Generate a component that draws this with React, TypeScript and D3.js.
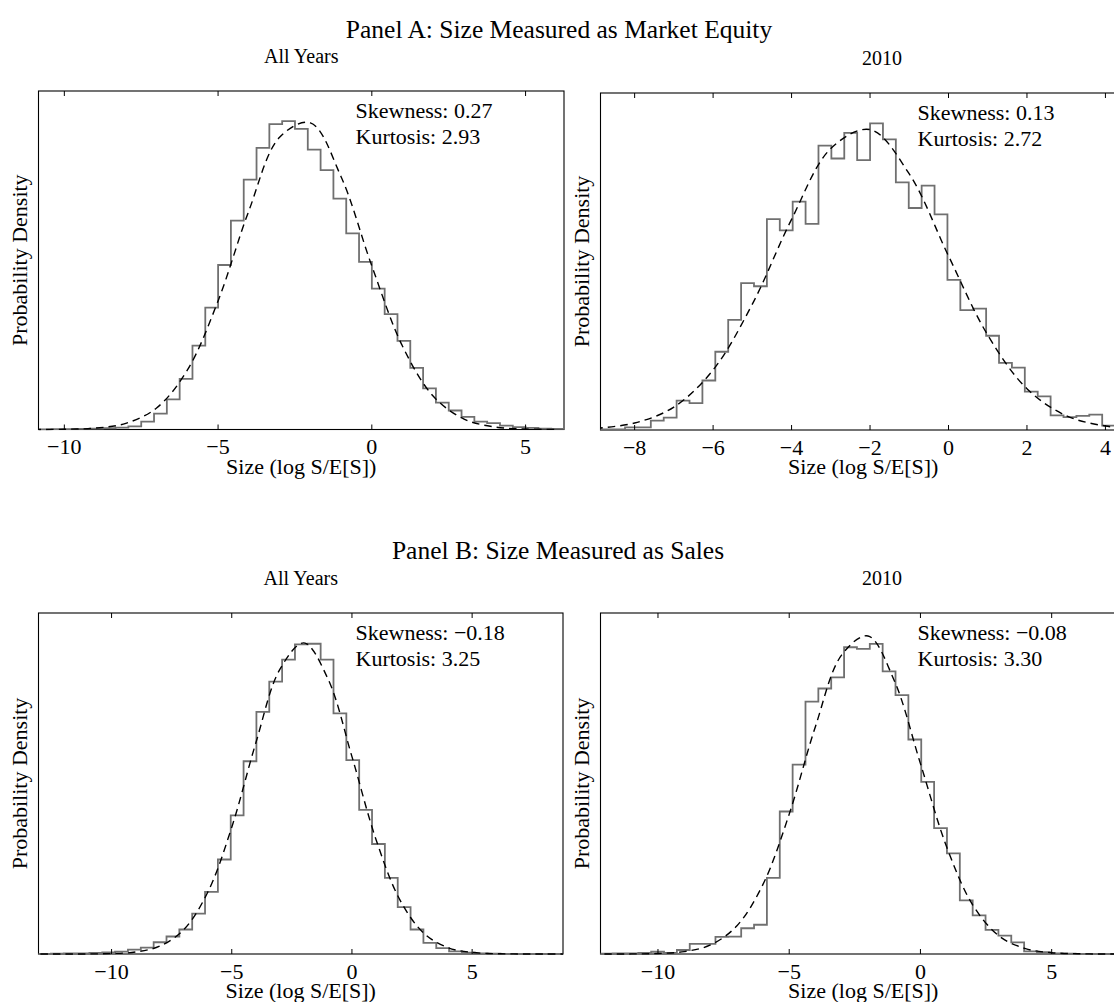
import React, { useEffect, useRef } from "react";
import * as d3 from "d3";

// Panel A: market equity, all years
const aAllBinStart = -10.833;
const aAllBinWidth = 0.4167;
const aAllDensity = [
  0.0001, 0.0002, 0.0003, 0.0004, 0.0006, 0.0008, 0.0012, 0.002, 0.005, 0.01,
  0.019, 0.032, 0.053, 0.077, 0.104, 0.132, 0.158, 0.178, 0.193, 0.195, 0.19,
  0.177, 0.164, 0.146, 0.124, 0.106, 0.089, 0.073, 0.056, 0.039, 0.026, 0.017,
  0.012, 0.008, 0.005, 0.004, 0.0025, 0.0015, 0.001, 0.0006, 0.0004,
];
const aAllFitX = [-11, -10, -9, -8, -7, -6, -5, -4, -3, -2, -1, 0, 1, 2, 3, 4, 5, 6];
const aAllFit = [
  0.00002, 0.00015, 0.00087, 0.0039, 0.0136, 0.0375, 0.0813, 0.1382, 0.1847,
  0.1939, 0.1598, 0.1034, 0.0526, 0.021, 0.0066, 0.0016, 0.0003, 0.00005,
];

// Panel A: market equity, 2010
const a2010BinStart = -8.902;
const a2010BinWidth = 0.3287;
const a2010Density = [
  0.0003, 0.0004, 0.0017, 0.0017, 0.0059, 0.0077, 0.0184, 0.0168, 0.031, 0.049,
  0.069, 0.092, 0.09, 0.132, 0.125, 0.143, 0.129, 0.178, 0.17, 0.186, 0.169,
  0.192, 0.182, 0.155, 0.139, 0.153, 0.135, 0.094, 0.075, 0.076, 0.059, 0.042,
  0.039, 0.024, 0.021, 0.0092, 0.008, 0.0088, 0.0096, 0.0027, 0.0015,
];
const a2010FitX = [-9, -8, -7, -6, -5, -4, -3, -2, -1, 0, 1, 2, 3, 4, 5];
const a2010Fit = [
  0.00106, 0.00437, 0.01434, 0.0376, 0.0788, 0.1319, 0.1762, 0.1881, 0.1603,
  0.109, 0.0594, 0.0258, 0.00896, 0.0025, 0.00055,
];

// Panel B: sales, all years
const bAllBinStart = -13.059;
const bAllBinWidth = 0.5344;
const bAllDensity = [
  0.0001, 0.0002, 0.0003, 0.0004, 0.0006, 0.001, 0.0014, 0.0026, 0.0037, 0.0069,
  0.0103, 0.0144, 0.0237, 0.0365, 0.0556, 0.0815, 0.1134, 0.1424, 0.1602,
  0.1732, 0.1821, 0.1825, 0.1732, 0.1415, 0.114, 0.0848, 0.0647, 0.0448, 0.0276,
  0.0144, 0.0065, 0.0034, 0.0016, 0.0008, 0.0004, 0.0002, 0.0001, 0.0001, 0, 0, 0,
];
const bAllFitX = [-14, -13, -12, -11, -10, -9, -8, -7, -6, -5, -4, -3, -2, -1, 0, 1, 2, 3, 4, 5, 6, 7, 8, 9];
const bAllFit = [
  0, 0.000001, 0.000006, 0.00004, 0.00025, 0.0012, 0.0046, 0.0143, 0.0363,
  0.0746, 0.1241, 0.1674, 0.183, 0.1619, 0.1161, 0.0674, 0.0317, 0.0121, 0.0037,
  0.00093, 0.00019, 0.00003, 0, 0,
];

// Panel B: sales, 2010
const b2010BinStart = -12.22;
const b2010BinWidth = 0.49;
const b2010Density = [
  0.0002, 0.0004, 0.0004, 0.0006, 0.0013, 0.0006, 0.0023, 0.0058, 0.0058, 0.0098,
  0.01, 0.0148, 0.0168, 0.0437, 0.0819, 0.1089, 0.1451, 0.1526, 0.159, 0.1763,
  0.1754, 0.1783, 0.1625, 0.1488, 0.1233, 0.0989, 0.0723, 0.0578, 0.0308, 0.0222,
  0.0139, 0.0106, 0.0067, 0.0015, 0.001, 0.0004, 0.0002, 0.0001, 0, 0, 0,
];
const b2010FitX = [-13, -12, -11, -10, -9, -8, -7, -6, -5, -4, -3, -2, -1, 0, 1, 2, 3, 4, 5, 6, 7, 8];
const b2010Fit = [
  0.000001, 0.000007, 0.00005, 0.0003, 0.00138, 0.0052, 0.0161, 0.04, 0.0804,
  0.1308, 0.1719, 0.1828, 0.1572, 0.1094, 0.0615, 0.028, 0.0103, 0.0031,
  0.00074, 0.00014, 0.00002, 0,
];

const ticksA2010 = [-8, -6, -4, -2, 0, 2, 4];
const ticksFive = [-10, -5, 0, 5];

const subtitles = ["All Years", "2010", "All Years", "2010"];
const skewness = ["0.27", "0.13", "\u22120.18", "\u22120.08"];
const kurtosis = ["2.93", "2.72", "3.25", "3.30"];

const serif = "'Liberation Serif', 'Times New Roman', Times, serif";

const panels = [
  { left: 38.5, top: 91, width: 525.5, height: 338.5, xDomain: [-10.84, 6.25], yMax: 0.214, ticks: ticksFive, binStart: aAllBinStart, binWidth: aAllBinWidth, density: aAllDensity, fitX: aAllFitX, fit: aAllFit },
  { left: 600.5, top: 93, width: 563, height: 337, xDomain: [-8.87, 5.48], yMax: 0.211, ticks: ticksA2010, binStart: a2010BinStart, binWidth: a2010BinWidth, density: a2010Density, fitX: a2010FitX, fit: a2010Fit },
  { left: 38.5, top: 613, width: 524.5, height: 341, xDomain: [-13.04, 8.78], yMax: 0.2006, ticks: ticksFive, binStart: bAllBinStart, binWidth: bAllBinWidth, density: bAllDensity, fitX: bAllFitX, fit: bAllFit },
  { left: 600.5, top: 613, width: 563, height: 341, xDomain: [-12.19, 9.26], yMax: 0.196, ticks: ticksFive, binStart: b2010BinStart, binWidth: b2010BinWidth, density: b2010Density, fitX: b2010FitX, fit: b2010Fit },
];

export default function App() {
  const ref = useRef<SVGSVGElement>(null);

  useEffect(() => {
    if (!ref.current) return;
    const svg = d3.select(ref.current);
    svg.selectAll("*").remove();

    svg.append("rect").attr("width", 1114).attr("height", 1002).attr("fill", "#fff");

    // panel headings
    svg.append("text")
      .attr("x", 559).attr("y", 38)
      .attr("text-anchor", "middle")
      .style("font-family", serif).style("font-size", "25.5px")
      .text("Panel A: Size Measured as Market Equity");
    svg.append("text")
      .attr("x", 558).attr("y", 559)
      .attr("text-anchor", "middle")
      .style("font-family", serif).style("font-size", "25.5px")
      .text("Panel B: Size Measured as Sales");

    panels.forEach((p, i) => {
      const x = d3.scaleLinear().domain(p.xDomain).range([p.left, p.left + p.width]);
      const y = d3.scaleLinear().domain([0, p.yMax]).range([p.top + p.height, p.top]);
      const bottom = p.top + p.height;
      const g = svg.append("g");

      const clipId = `clip-${i}`;
      svg.append("clipPath").attr("id", clipId)
        .append("rect")
        .attr("x", p.left).attr("y", p.top)
        .attr("width", p.width).attr("height", p.height + 1);

      // box
      g.append("rect")
        .attr("x", p.left).attr("y", p.top)
        .attr("width", p.width).attr("height", p.height)
        .attr("fill", "none").attr("stroke", "#000").attr("stroke-width", 1.1);

      // histogram outline
      const pts: [number, number][] = p.density.map((d, k) => [p.binStart + k * p.binWidth, d]);
      pts.push([p.binStart + p.density.length * p.binWidth, p.density[p.density.length - 1]]);
      const step = d3.line<[number, number]>()
        .x((d) => x(d[0]))
        .y((d) => y(d[1]))
        .curve(d3.curveStepAfter);
      g.append("path")
        .attr("d", step(pts))
        .attr("clip-path", `url(#${clipId})`)
        .attr("fill", "none")
        .attr("stroke", "#707070")
        .attr("stroke-width", 1.8);

      // fitted normal density
      const fitPts: [number, number][] = p.fit.map((d, k) => [p.fitX[k], d]);
      const smooth = d3.line<[number, number]>()
        .x((d) => x(d[0]))
        .y((d) => y(d[1]))
        .curve(d3.curveCatmullRom);
      g.append("path")
        .attr("d", smooth(fitPts))
        .attr("clip-path", `url(#${clipId})`)
        .attr("fill", "none")
        .attr("stroke", "#000")
        .attr("stroke-width", 1.4)
        .attr("stroke-dasharray", "7.5 5");

      // ticks (bottom + top, pointing inward)
      p.ticks.forEach((t) => {
        const tx = x(t);
        g.append("line").attr("x1", tx).attr("x2", tx).attr("y1", bottom).attr("y2", bottom - 5)
          .attr("stroke", "#000").attr("stroke-width", 1);
        g.append("line").attr("x1", tx).attr("x2", tx).attr("y1", p.top).attr("y2", p.top + 5)
          .attr("stroke", "#000").attr("stroke-width", 1);
        g.append("text")
          .attr("x", tx).attr("y", bottom + 24.5)
          .attr("text-anchor", "middle")
          .style("font-family", serif).style("font-size", "22px")
          .text(d3.format("d")(t));
      });

      const cx = p.left + (i % 2 === 0 ? p.width / 2 : 262.75);

      // subtitle
      g.append("text")
        .attr("x", i % 2 === 0 ? cx : 882).attr("y", p.top - 28)
        .attr("text-anchor", "middle")
        .style("font-family", serif).style("font-size", "20px")
        .text(subtitles[i]);

      // axis labels
      g.append("text")
        .attr("x", cx).attr("y", bottom + 44)
        .attr("text-anchor", "middle")
        .style("font-family", serif).style("font-size", "22px")
        .text("Size (log S/E[S])");
      g.append("text")
        .attr("transform", `translate(${p.left - 11.5},${p.top + p.height / 2}) rotate(-90)`)
        .attr("text-anchor", "middle")
        .style("font-family", serif).style("font-size", "22px")
        .text("Probability Density");

      // moments
      g.append("text")
        .attr("x", p.left + 317).attr("y", p.top + 27)
        .style("font-family", serif).style("font-size", "22px")
        .text(`Skewness: ${skewness[i]}`);
      g.append("text")
        .attr("x", p.left + 317).attr("y", p.top + 53)
        .style("font-family", serif).style("font-size", "22px")
        .text(`Kurtosis: ${kurtosis[i]}`);
    });
  }, []);

  return (
    <div style={{ position: "absolute", left: 0, top: 0, width: 1114, height: 1002, overflow: "hidden", background: "#fff" }}>
      <svg ref={ref} width={1114} height={1002} style={{ display: "block" }} />
    </div>
  );
}
